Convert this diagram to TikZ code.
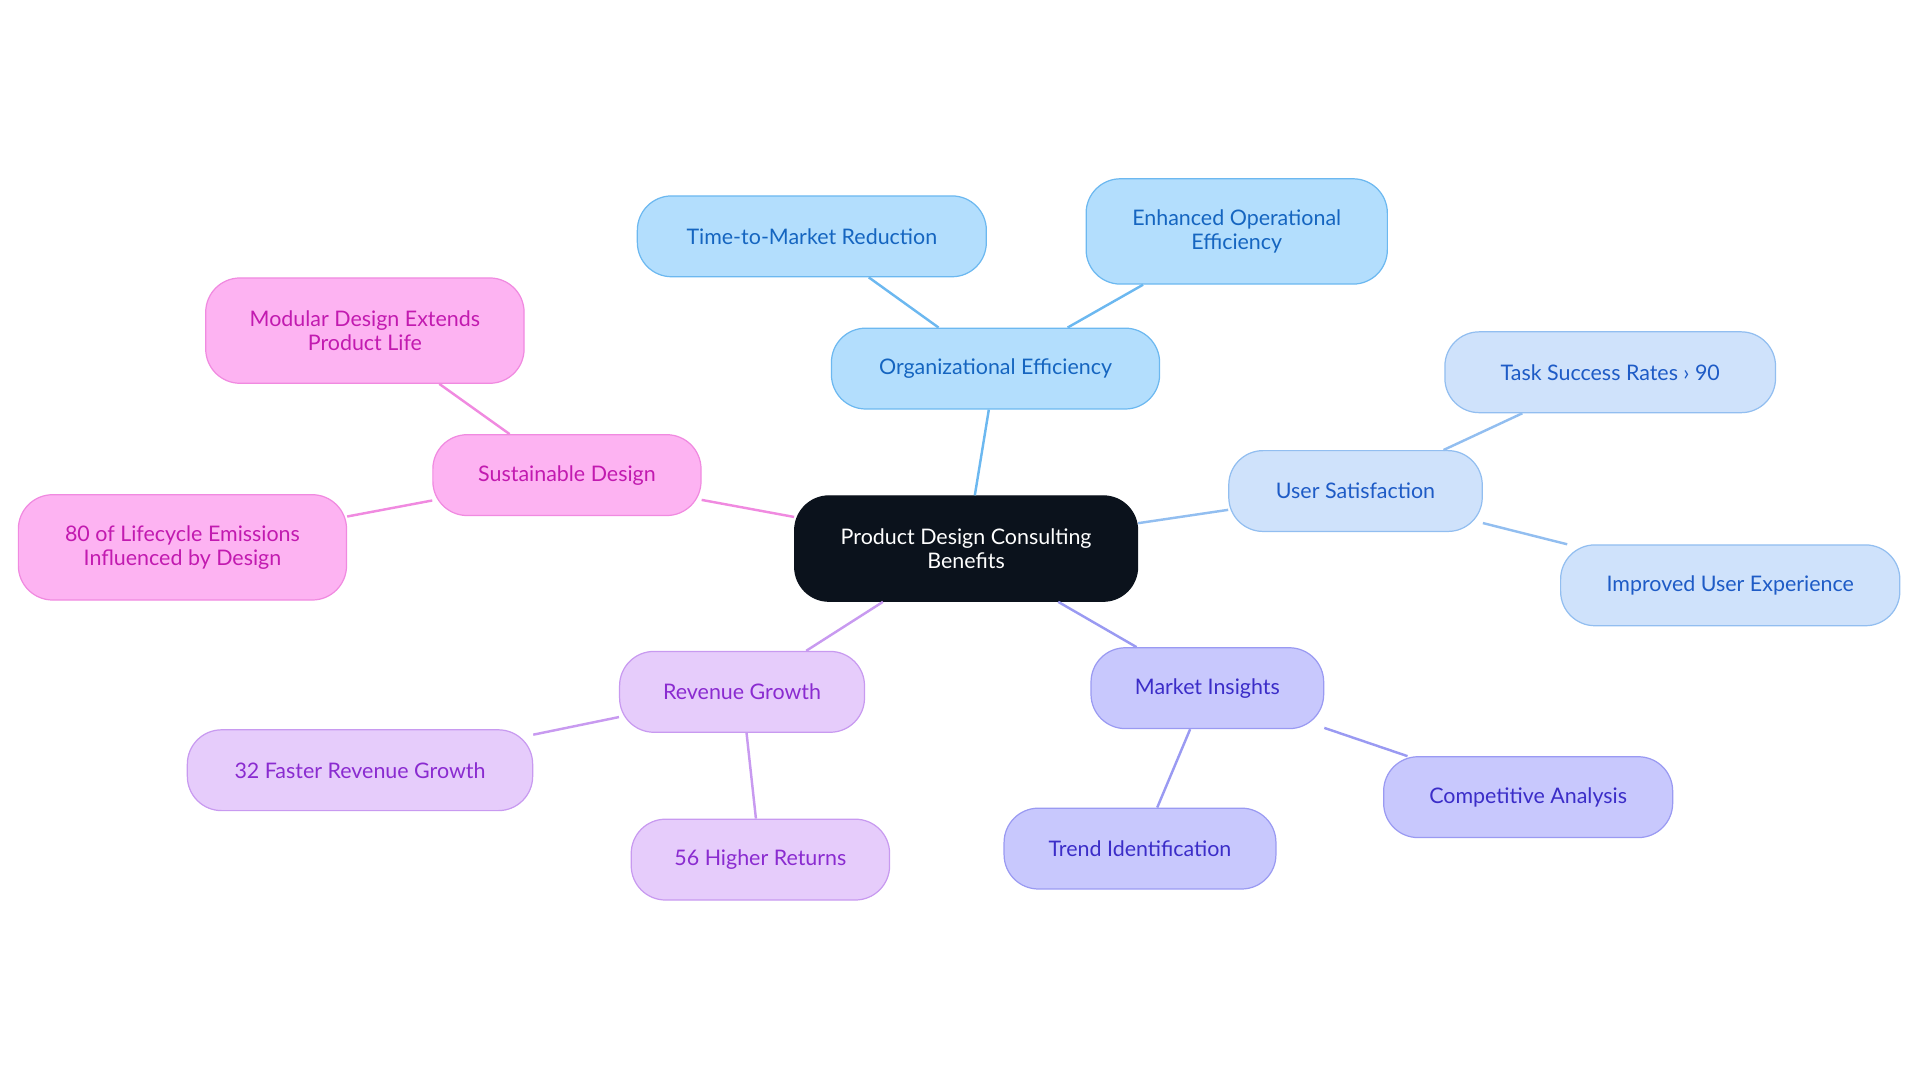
\documentclass[tikz,border=0pt]{standalone}
\usepackage{fontspec}
\setmainfont{Lato}
\begin{document}
\begin{tikzpicture}[x=1pt,y=-1pt,
 box/.style={draw,line width=1pt,rounded corners=28pt,align=center,font=\fontsize{17.5}{20}\selectfont,minimum height=66pt,inner sep=2pt},
 cen/.style={box,fill=c0,draw=c0,text=white},
 org/.style={box,fill=bF,draw=bD,text=bT}, orgl/.style={draw=bD,line width=2pt},
 usr/.style={box,fill=uF,draw=uD,text=uT}, usrl/.style={draw=uD,line width=2pt},
 mkt/.style={box,fill=mF,draw=mD,text=mT}, mktl/.style={draw=mD,line width=2pt},
 rev/.style={box,fill=rF,draw=rD,text=rT}, revl/.style={draw=rD,line width=2pt},
 sus/.style={box,fill=sF,draw=sD,text=sT}, susl/.style={draw=sD,line width=2pt}]
\definecolor{c0}{HTML}{0B121C}
\definecolor{bF}{HTML}{B3DEFD}\definecolor{bD}{HTML}{6CB8F0}\definecolor{bT}{HTML}{1565C0}
\definecolor{uF}{HTML}{CFE2FB}\definecolor{uD}{HTML}{92BEF0}\definecolor{uT}{HTML}{1E5BC6}
\definecolor{mF}{HTML}{C8C8FD}\definecolor{mD}{HTML}{9A9AF2}\definecolor{mT}{HTML}{3B2DC8}
\definecolor{rF}{HTML}{E6CCFB}\definecolor{rD}{HTML}{C89AF0}\definecolor{rT}{HTML}{8A2BD0}
\definecolor{sF}{HTML}{FDB3F2}\definecolor{sD}{HTML}{F08AE0}\definecolor{sT}{HTML}{C21AB0}
\useasboundingbox (0,0) rectangle (1568,884);
\node[cen,minimum width=280pt,minimum height=86pt] (c) at (789,448) {Product Design Consulting\\Benefits};
\node[org,minimum width=268pt] (o) at (813,301) {Organizational Efficiency};
\node[org,minimum width=285pt] (o1) at (663,193) {Time-to-Market Reduction};
\node[org,minimum width=246pt,minimum height=86pt] (o2) at (1010,189) {Enhanced Operational\\Efficiency};
\node[usr,minimum width=207pt] (u) at (1107,401) {User Satisfaction};
\node[usr,minimum width=270pt] (u1) at (1315,304) {Task Success Rates › 90};
\node[usr,minimum width=277pt] (u2) at (1413,478) {Improved User Experience};
\node[mkt,minimum width=190pt] (m) at (986,562) {Market Insights};
\node[mkt,minimum width=236pt] (m1) at (1248,651) {Competitive Analysis};
\node[mkt,minimum width=222pt] (m2) at (931,693) {Trend Identification};
\node[rev,minimum width=200pt] (r) at (606,565) {Revenue Growth};
\node[rev,minimum width=282pt] (r1) at (294,629) {32 Faster Revenue Growth};
\node[rev,minimum width=211pt] (r2) at (621,702) {56 Higher Returns};
\node[sus,minimum width=219pt] (s) at (463,388) {Sustainable Design};
\node[sus,minimum width=260pt,minimum height=86pt] (s1) at (298,270) {Modular Design Extends\\Product Life};
\node[sus,minimum width=268pt,minimum height=86pt] (s2) at (149,447) {80 of Lifecycle Emissions\\Influenced by Design};
\begin{scope}[on background layer/.style={}]
\end{scope}
\draw[orgl] (c) -- (o); \draw[orgl] (o) -- (o1); \draw[orgl] (o) -- (o2);
\draw[usrl] (c) -- (u); \draw[usrl] (u) -- (u1); \draw[usrl] (u) -- (u2);
\draw[mktl] (c) -- (m); \draw[mktl] (m) -- (m1); \draw[mktl] (m) -- (m2);
\draw[revl] (c) -- (r); \draw[revl] (r) -- (r1); \draw[revl] (r) -- (r2);
\draw[susl] (c) -- (s); \draw[susl] (s) -- (s1); \draw[susl] (s) -- (s2);
\end{tikzpicture}
\end{document}
